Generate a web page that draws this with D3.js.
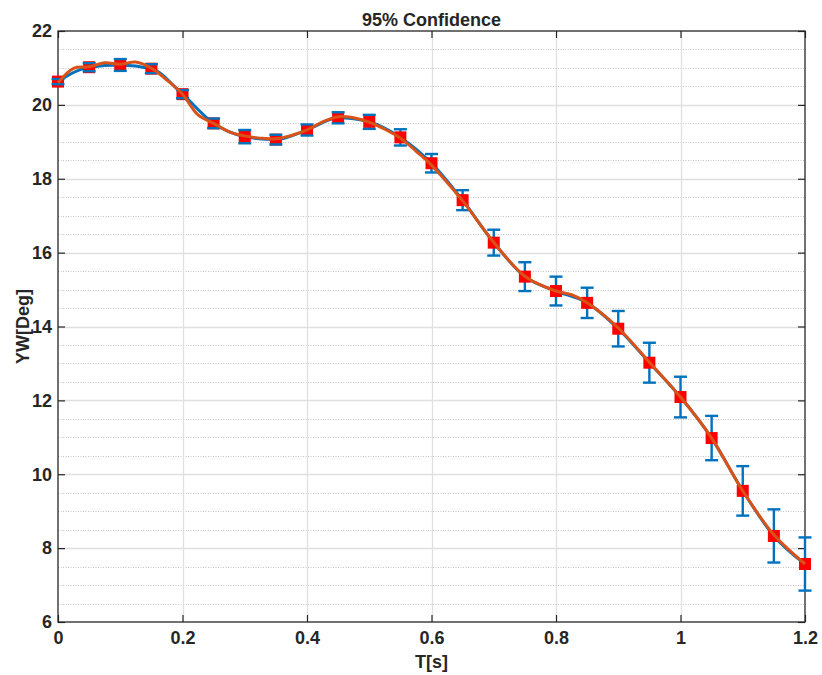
<!DOCTYPE html>
<html>
<head>
<meta charset="utf-8">
<script src="https://cdn.jsdelivr.net/npm/d3@7"></script>
<style>
  html, body { margin: 0; padding: 0; background: #ffffff; }
  svg { display: block; }
  text { font-family: "Liberation Sans", Arial, Helvetica, sans-serif; font-weight: bold; fill: #262626; }
</style>
</head>
<body>
<div id="chart"></div>
<script>
// ---------------- data ----------------
const timeValues = [0, 0.05, 0.1, 0.15, 0.2, 0.25, 0.3, 0.35, 0.4, 0.45, 0.5, 0.55, 0.6,
  0.65, 0.7, 0.75, 0.8, 0.85, 0.9, 0.95, 1.0, 1.05, 1.1, 1.15, 1.2];
const meanValues = [20.63, 21.02, 21.08, 20.98, 20.29, 19.50, 19.14, 19.06, 19.32, 19.65, 19.54, 19.12, 18.42,
  17.42, 16.27, 15.35, 14.96, 14.64, 13.94, 13.02, 12.09, 10.98, 9.55, 8.33, 7.57];
const ciHalfWidth = [0.07, 0.11, 0.16, 0.12, 0.11, 0.13, 0.18, 0.13, 0.15, 0.15, 0.19, 0.22, 0.25,
  0.27, 0.35, 0.39, 0.39, 0.41, 0.48, 0.54, 0.55, 0.60, 0.67, 0.72, 0.72];
const fitTime = [0, 0.025, 0.05, 0.075, 0.1, 0.125, 0.15, 0.175, 0.2, 0.225, 0.25, 0.275, 0.3, 0.325, 0.35,
  0.375, 0.4, 0.425, 0.45, 0.475, 0.5, 0.525, 0.55, 0.575, 0.6, 0.65, 0.7, 0.75, 0.8, 0.825, 0.85,
  0.9, 0.95, 1.0, 1.05, 1.1, 1.15, 1.2];
const fitValues = [20.60, 20.99, 21.03, 21.14, 21.10, 21.16, 20.99, 20.67, 20.29, 19.73, 19.50, 19.27, 19.16, 19.10, 19.08,
  19.17, 19.32, 19.54, 19.68, 19.65, 19.53, 19.34, 19.10, 18.75, 18.37, 17.40, 16.28, 15.36, 14.96, 14.86, 14.64,
  13.96, 13.03, 12.09, 10.98, 9.55, 8.36, 7.57];
const xTicks = [0, 0.2, 0.4, 0.6, 0.8, 1, 1.2];
const yTicks = [6, 8, 10, 12, 14, 16, 18, 20, 22];
const yMinorTicks = [6.5, 7, 7.5, 8.5, 9, 9.5, 10.5, 11, 11.5, 12.5, 13, 13.5, 14.5, 15, 15.5,
  16.5, 17, 17.5, 18.5, 19, 19.5, 20.5, 21, 21.5];
const titleText = "95% Confidence";
const xLabelText = "T[s]";
const yLabelText = "YW[Deg]";

// ---------------- layout ----------------
const W = 822, H = 675;
const pLeft = 58, pRight = 805, pTop = 31, pBottom = 622;

const svg = d3.select("#chart").append("svg").attr("width", W).attr("height", H);

const x = d3.scaleLinear().domain([0, 1.2]).range([pLeft, pRight]);
const y = d3.scaleLinear().domain([6, 22]).range([pBottom, pTop]);

// grid
const grid = svg.append("g");
grid.selectAll("line.minor").data(yMinorTicks).join("line")
  .attr("x1", pLeft).attr("x2", pRight)
  .attr("y1", d => Math.round(y(d)) + 0.5).attr("y2", d => Math.round(y(d)) + 0.5)
  .attr("stroke", "#c4c4c4").attr("stroke-width", 1).attr("stroke-dasharray", "1,1.5");
grid.selectAll("line.majy").data(yTicks.slice(1, -1)).join("line")
  .attr("x1", pLeft).attr("x2", pRight)
  .attr("y1", d => Math.round(y(d)) + 0.5).attr("y2", d => Math.round(y(d)) + 0.5)
  .attr("stroke", "#e0e0e0").attr("stroke-width", 1.3);
grid.selectAll("line.majx").data(xTicks.slice(1, -1)).join("line")
  .attr("y1", pTop).attr("y2", pBottom)
  .attr("x1", d => Math.round(x(d)) + 0.5).attr("x2", d => Math.round(x(d)) + 0.5)
  .attr("stroke", "#e0e0e0").attr("stroke-width", 1.3);

// axes (ticks inward)
const tickLen = 7;
const xAxisB = d3.axisBottom(x).tickValues(xTicks).tickSize(-tickLen).tickPadding(9).tickFormat(d3.format("~g"));
const xAxisT = d3.axisTop(x).tickValues(xTicks).tickSize(-tickLen).tickFormat("");
const yAxisL = d3.axisLeft(y).tickValues(yTicks).tickSize(-tickLen).tickPadding(6).tickFormat(d3.format("d"));
const yAxisR = d3.axisRight(y).tickValues(yTicks).tickSize(-tickLen).tickFormat("");

function styleAxis(g) {
  g.select(".domain").remove();
  g.selectAll(".tick line").attr("stroke", "#262626").attr("stroke-width", 1.2);
  g.selectAll(".tick text").attr("font-size", 18).attr("font-family", "Liberation Sans, Arial, sans-serif")
    .attr("font-weight", "bold").attr("fill", "#262626");
}
svg.append("g").attr("transform", `translate(0,${pBottom})`).call(xAxisB).call(styleAxis);
svg.append("g").attr("transform", `translate(0,${pTop})`).call(xAxisT).call(styleAxis);
svg.append("g").attr("transform", `translate(${pLeft},0)`).call(yAxisL).call(styleAxis);
svg.append("g").attr("transform", `translate(${pRight},0)`).call(yAxisR).call(styleAxis);

// box
svg.append("rect").attr("x", pLeft).attr("y", pTop).attr("width", pRight - pLeft).attr("height", pBottom - pTop)
  .attr("fill", "none").attr("stroke", "#262626").attr("stroke-width", 1.3);

// data
const pts = timeValues.map((t, i) => ({ t, m: meanValues[i], e: ciHalfWidth[i] }));
const fitPts = fitTime.map((t, i) => ({ t, v: fitValues[i] }));

const blue = "#0072BD", orange = "#D95319";

const plot = svg.append("g");
plot.append("path").datum(pts)
  .attr("fill", "none").attr("stroke", blue).attr("stroke-width", 3)
  .attr("d", d3.line().x(d => x(d.t)).y(d => y(d.m)).curve(d3.curveMonotoneX));

// error bar stems
plot.selectAll("line.stem").data(pts).join("line")
  .attr("x1", d => x(d.t)).attr("x2", d => x(d.t))
  .attr("y1", d => y(d.m - d.e)).attr("y2", d => y(d.m + d.e))
  .attr("stroke", blue).attr("stroke-width", 2.4);

// red squares
const sq = 12;
plot.selectAll("rect.mk").data(pts).join("rect")
  .attr("x", d => x(d.t) - sq / 2).attr("y", d => y(d.m) - sq / 2)
  .attr("width", sq).attr("height", sq).attr("fill", "#ff0000");

// caps
const capW = 13;
["lo", "hi"].forEach(k => {
  plot.selectAll("line.cap" + k).data(pts).join("line")
    .attr("class", "cap" + k)
    .attr("x1", d => x(d.t) - capW / 2).attr("x2", d => x(d.t) + capW / 2)
    .attr("y1", d => y(k === "lo" ? d.m - d.e : d.m + d.e))
    .attr("y2", d => y(k === "lo" ? d.m - d.e : d.m + d.e))
    .attr("stroke", blue).attr("stroke-width", 2.4);
});

// orange fit line
plot.append("path").datum(fitPts)
  .attr("fill", "none").attr("stroke", orange).attr("stroke-width", 3)
  .attr("d", d3.line().x(d => x(d.t)).y(d => y(d.v)).curve(d3.curveCatmullRom.alpha(0.5)));

// texts
svg.append("text").attr("x", (pLeft + pRight) / 2).attr("y", 26).attr("text-anchor", "middle")
  .attr("font-size", 18).text(titleText);
svg.append("text").attr("x", (pLeft + pRight) / 2).attr("y", 668).attr("text-anchor", "middle")
  .attr("font-size", 18).text(xLabelText);
svg.append("text").attr("transform", `translate(29,${(pTop + pBottom) / 2}) rotate(-90)`)
  .attr("text-anchor", "middle").attr("font-size", 18).text(yLabelText);
</script>
</body>
</html>
